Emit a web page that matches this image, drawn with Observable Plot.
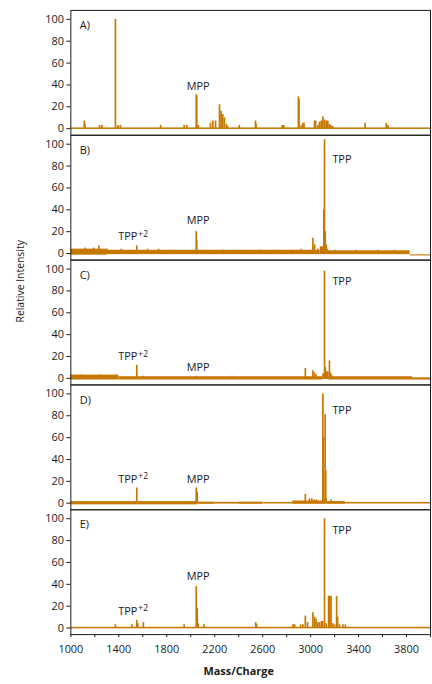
<!DOCTYPE html>
<html>
<head>
<meta charset="utf-8">
<script src="https://cdn.jsdelivr.net/npm/d3@7"></script>
<script src="https://cdn.jsdelivr.net/npm/@observablehq/plot@0.6"></script>
<style>
  html, body { margin: 0; padding: 0; background: #fff; overflow: hidden; }
  #chart { width: 432px; height: 684px; overflow: hidden; }
</style>
</head>
<body>
<div id="chart"></div>
<script>
// ---- data ----
const panels = ["A", "B", "C", "D", "E"];
const xTicks = [1000, 1200, 1400, 1600, 1800, 2000, 2200, 2400, 2600, 2800, 3000, 3200, 3400, 3600, 3800, 4000];
const yTicks = [0, 20, 40, 60, 80, 100];

// [m/z, relative intensity]
const peaksA = [[1112,7],[1118,4],[1240,3],[1260,3],[1372,100],[1393,3],[1413,3],[1749,3],[1945,3],[1967,3],
  [2046,31],[2050,30],[2063,3],[2165,5],[2184,7],[2207,7],[2240,22],[2253,16],[2267,13],[2281,10],[2298,4],[2308,2],
  [2405,3],[2540,7],[2545,4],[2763,3],[2777,3],[2898,29],[2903,27],[2922,3],[2936,5],[2945,5],[3033,7],[3041,7],
  [3060,3],[3074,6],[3088,7],[3102,11],[3116,8],[3130,7],[3143,7],[3157,4],[3170,3],[3184,2],[3455,5],[3631,5],[3645,3]];
const peaksB = [[1120,5],[1190,5],[1234,7],[1300,4],[1420,4],[1550,7],[1640,4],[1732,4],[1860,3],[2046,20],[2050,12],
  [2100,3],[2270,3],[2410,3],[2580,3],[2700,3],[2850,3],[2920,4],[3019,14],[3033,8],[3060,4],[3088,6],[3102,6],
  [3110,40],[3116,104],[3122,20],[3128,8],[3140,4],[3200,3],[3380,3],[3560,3],[3700,3]];
const peaksC = [[1080,3],[1250,3],[1550,12],[1600,2],[2046,2],[2344,2],[2956,9],[3019,7],[3033,5],[3045,3],
  [3116,98],[3122,10],[3130,6],[3143,6],[3157,16],[3165,5],[3175,3]];
const peaksD = [[1550,14],[2046,14],[2054,10],[2956,8],[2990,4],[3010,4],[3030,3],[3050,3],[3102,100],[3106,60],
  [3121,81],[3126,30],[3170,3]];
const peaksE = [[1372,3],[1509,3],[1550,7],[1558,4],[1605,5],[1945,3],[2046,38],[2054,18],[2062,4],[2110,3],
  [2542,5],[2550,3],[2853,3],[2867,3],[2917,3],[2936,3],[2956,11],[2975,5],[3019,14],[3033,10],[3045,8],[3060,5],
  [3075,5],[3090,6],[3100,6],[3116,100],[3130,4],[3150,29],[3160,29],[3170,29],[3185,4],[3200,3],[3217,29],
  [3225,10],[3240,3],[3270,3],[3290,3]];

// baseline / noise bands: [m/z from, m/z to, low, high]
const baseA = [[1000,4000,-0.7,0.7]];
const baseB = [[1000,1300,-1.5,4],[1300,3080,-1,3],[3080,3140,-1,6],[3140,3830,-1,2.5],[3830,4000,-2.2,-1.2]];
const baseC = [[1000,1400,-1.5,3],[1400,3100,-1.5,1.5],[3100,3150,-1,4],[3150,3850,-1.5,1.5],[3850,4000,-1.5,0.5]];
const baseD = [[1000,2060,-1.5,1.5],[2060,2200,-1,1],[2200,2400,-0.8,0.8],[2400,2600,-1,1],[2600,2850,-0.7,0.7],
  [2850,3100,-1,2],[3100,3140,-1,4],[3140,3290,-1,1.5],[3290,4000,-0.7,0.7]];
const baseE = [[1000,4000,-0.7,0.7]];

// annotations: [panel, m/z, intensity, text]
const labels = [["A",2062,39,"MPP"],
  ["B",2062,30,"MPP"],["B",3261,86,"TPP"],
  ["C",2062,10,"MPP"],["C",3261,89,"TPP"],
  ["D",2062,22,"MPP"],["D",3261,85,"TPP"],
  ["E",2062,47,"MPP"],["E",3261,89,"TPP"]];
// TPP+2 labels: [panel, m/z where "TPP" ends, intensity]
const tpp2 = [["B",1555,15.7],["C",1555,20],["D",1555,22],["E",1555,15.5]];

// ---- build tables ----
const peakSets = {A: peaksA, B: peaksB, C: peaksC, D: peaksD, E: peaksE};
const baseSets = {A: baseA, B: baseB, C: baseC, D: baseD, E: baseE};
const peaks = panels.flatMap(p => peakSets[p].map(([mz, v]) => ({panel: p, mz, v})));
const bands = panels.flatMap(p => baseSets[p].map(([x1, x2, lo, hi]) => ({panel: p, x1, x2, lo, hi})));
const ann = labels.map(([panel, mz, v, text]) => ({panel, mz, v, text}));
const ann2 = tpp2.map(([panel, mz, v]) => ({panel, mz, v}));

const orange = "#c77800";
const ink = "#1a1a1a";

const chart = Plot.plot({
  width: 436,
  height: 684,
  marginLeft: 71,
  marginRight: 2,
  marginTop: 9,
  marginBottom: 43,
  style: {fontFamily: "'Open Sans', sans-serif", fontSize: "11px", color: ink, background: "#fff"},
  x: {domain: [1000, 4000], ticks: xTicks, tickFormat: d => (d - 1000) % 400 === 0 && d < 4000 ? String(d) : "",
      tickSize: 3, tickPadding: 8, label: null},
  y: {domain: [-6, 108.2], ticks: yTicks, tickSize: 4, tickPadding: 3, label: null},
  fy: {domain: panels, axis: null, padding: 0},
  marks: [
    Plot.rect(bands, {x1: "x1", x2: "x2", y1: "lo", y2: "hi", fy: "panel", fill: orange}),
    Plot.ruleX(peaks, {x: "mz", y1: 0, y2: "v", fy: "panel", stroke: orange, strokeWidth: 1.7}),
    Plot.frame({stroke: ink, strokeWidth: 1}),
    Plot.text(panels, {fy: d => d, text: d => d + ")", frameAnchor: "top-left", dx: 9, dy: 11, fontSize: 11, fill: ink, textAnchor: "start"}),
    Plot.text(ann, {x: "mz", y: "v", fy: "panel", text: "text", fontSize: 11, fill: ink}),
    Plot.text(ann2, {x: "mz", y: "v", fy: "panel", text: () => "TPP", fontSize: 11, fill: ink, textAnchor: "end"}),
    Plot.text(ann2, {x: "mz", y: "v", fy: "panel", text: () => "+2", fontSize: 8.5, dx: 1, dy: -2.5, fill: ink, textAnchor: "start"}),
    Plot.text(["C"], {fy: d => d, frameAnchor: "left", dx: -51, text: () => "Relative Intensity", rotate: -90, fontSize: 10.5, fill: ink}),
    Plot.text(["E"], {fy: d => d, x: () => 2400, frameAnchor: "bottom", dy: 37, lineAnchor: "middle", text: () => "Mass/Charge", fontSize: 11, fontWeight: "bold", fill: ink})
  ]
});
document.getElementById("chart").appendChild(chart);
</script>
</body>
</html>
